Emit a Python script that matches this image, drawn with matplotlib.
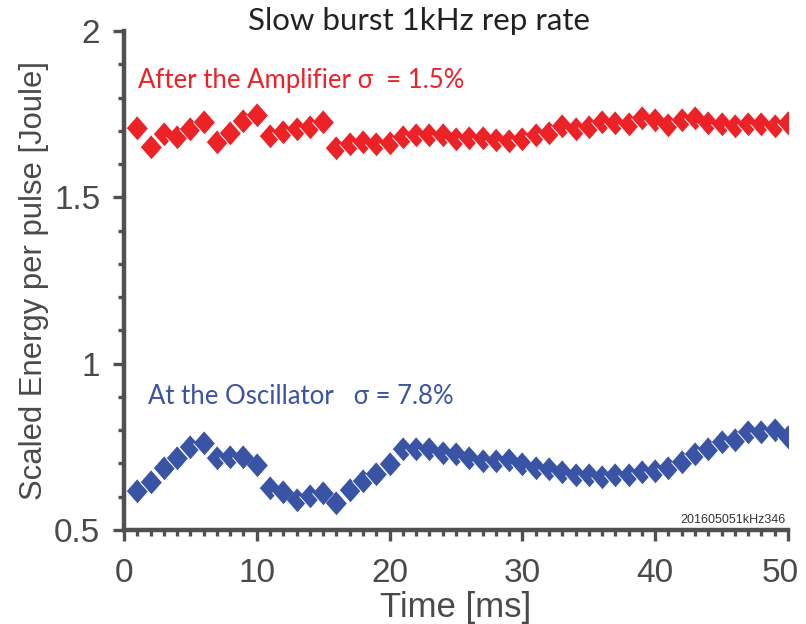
import numpy as np
import matplotlib
matplotlib.use('Agg')
import matplotlib.pyplot as plt
from matplotlib.transforms import ScaledTranslation

plt.rcParams['font.family'] = ['Liberation Sans', 'DejaVu Sans']

# pulse number / time in ms
t = np.arange(1, 51)

# after the amplifier (red)
amp = [1.708, 1.651, 1.690, 1.682, 1.705, 1.726, 1.667, 1.692, 1.730, 1.748,
       1.685, 1.697, 1.705, 1.711, 1.726, 1.647, 1.660, 1.665, 1.660, 1.662,
       1.682, 1.687, 1.687, 1.687, 1.674, 1.677, 1.679, 1.672, 1.670, 1.676,
       1.687, 1.692, 1.714, 1.705, 1.712, 1.727, 1.724, 1.719, 1.739, 1.733,
       1.718, 1.733, 1.738, 1.724, 1.719, 1.714, 1.719, 1.719, 1.714, 1.724]

# at the oscillator (blue)
osc = [0.617, 0.645, 0.686, 0.716, 0.751, 0.761, 0.716, 0.720, 0.720, 0.696,
       0.626, 0.615, 0.590, 0.602, 0.610, 0.580, 0.620, 0.647, 0.668, 0.698,
       0.743, 0.743, 0.743, 0.733, 0.730, 0.716, 0.708, 0.708, 0.711, 0.699,
       0.686, 0.683, 0.673, 0.665, 0.665, 0.658, 0.665, 0.665, 0.675, 0.677,
       0.686, 0.704, 0.730, 0.744, 0.766, 0.771, 0.794, 0.796, 0.801, 0.779]

red = '#ed2227'
blue = '#3a54a5'
grey = '#4a4a4a'
axcol = '#505050'

diamond = [(0, 1), (0.88, 0), (0, -1), (-0.88, 0)]

fig = plt.figure(figsize=(8.06, 6.24), dpi=100)
ax = fig.add_axes([0.1538, 0.1506, 0.8239, 0.7997])

ax.plot(t, amp, linestyle='none', marker=diamond, ms=18, color=red,
        markeredgecolor='white', markeredgewidth=0.7)
ax.plot(t, osc, linestyle='none', marker=diamond, ms=18, color=blue,
        markeredgecolor='white', markeredgewidth=0.7)

ax.set_xlim(0, 50)
ax.set_ylim(0.5, 2)
ax.set_xticks(np.arange(0, 51, 10))
ax.set_xticks(np.arange(0, 51, 1), minor=True)
ax.set_yticks([0.5, 1, 1.5, 2])
ax.set_yticklabels(['0.5', '1', '1.5', '2'])
ax.set_yticks(np.arange(0.5, 2.01, 0.1), minor=True)

for s in ['top', 'right']:
    ax.spines[s].set_visible(False)
for s in ['left', 'bottom']:
    ax.spines[s].set_color(axcol)
    ax.spines[s].set_linewidth(3.2)

ax.tick_params(which='major', direction='out', length=8, width=2.4,
               color=axcol, labelsize=24, labelcolor=grey)
ax.tick_params(axis='x', which='major', pad=12.5)
ax.tick_params(axis='y', which='major', pad=9)
ax.tick_params(which='minor', direction='out', length=4.5, width=2.4,
               color=axcol)

# last x label sits a bit inside the figure edge
fig.canvas.draw()
last = ax.get_xticklabels()[-1]
last.set_transform(last.get_transform() + ScaledTranslation(-0.08, 0, fig.dpi_scale_trans))

ax.set_xlabel('Time [ms]', fontsize=25, color=grey, labelpad=1)
ax.set_ylabel('Scaled Energy per pulse [Joule]', fontsize=22.3, color=grey,
              labelpad=3.5)
fig.text(0.52, 0.966, 'Slow burst 1kHz rep rate', fontsize=22.5, color='#222222',
         family=['Lato', 'DejaVu Sans'], ha='center', va='center')

ax.text(1.05, 1.852, 'After the Amplifier σ  = 1.5%', color=red, fontsize=18.5,
        family=['Lato', 'DejaVu Sans'], va='center')
ax.text(1.8, 0.90, 'At the Oscillator   σ = 7.8%', color=blue, fontsize=18.5,
        family=['Lato', 'DejaVu Sans'], va='center')
ax.text(49.8, 0.53, '201605051kHz346', fontsize=9, color='#333333',
        ha='right', va='center')

fig.savefig('out.png', dpi=100)
